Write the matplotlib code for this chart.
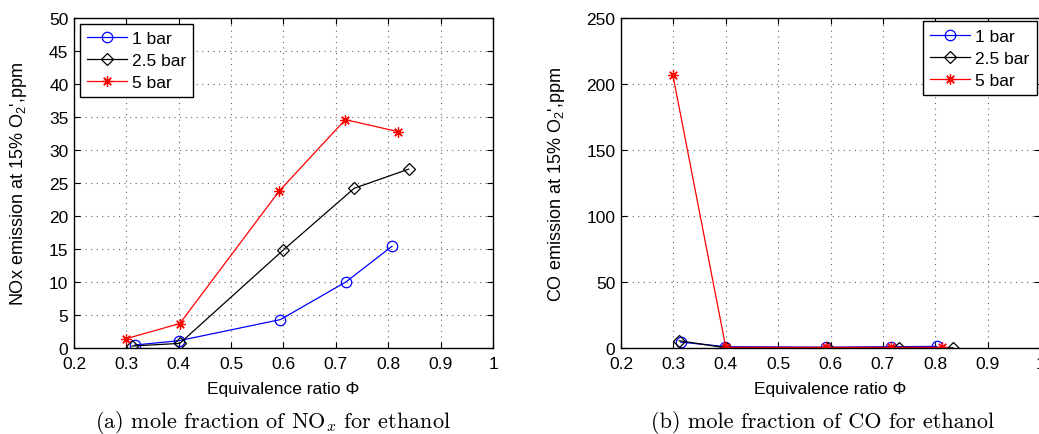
import matplotlib

matplotlib.use("Agg")
import matplotlib.pyplot as plt

plt.rcParams["font.family"] = ["Liberation Sans", "DejaVu Sans"]
plt.rcParams["mathtext.fontset"] = "cm"

# NOx emission (ppm at 15% O2)
NOX_1BAR_PHI = [0.316, 0.400, 0.594, 0.719, 0.807]
NOX_1BAR = [0.45, 1.1, 4.3, 10.0, 15.4]
NOX_25BAR_PHI = [0.311, 0.402, 0.599, 0.735, 0.839]
NOX_25BAR = [0.3, 0.7, 14.8, 24.2, 27.1]
NOX_5BAR_PHI = [0.299, 0.402, 0.592, 0.718, 0.818]
NOX_5BAR = [1.4, 3.7, 23.8, 34.6, 32.8]

# CO emission (ppm at 15% O2)
CO_1BAR_PHI = [0.314, 0.399, 0.592, 0.715, 0.803]
CO_1BAR = [4.5, 1.0, 0.6, 1.0, 1.2]
CO_25BAR_PHI = [0.311, 0.400, 0.595, 0.730, 0.834]
CO_25BAR = [5.5, 0.2, 0.2, 0.2, 0.1]
CO_5BAR_PHI = [0.299, 0.400, 0.592, 0.715, 0.813]
CO_5BAR = [206.8, 0.5, 0.5, 0.5, 0.5]

LABELS = ["1 bar", "2.5 bar", "5 bar"]
COLORS = ["#0000ff", "#000000", "#ff0000"]
MARKERS = ["o", "D", (8, 2, 0)]
MSIZES = [7.5, 6.5, 7.5]

FS = 12.5


def style_ax(ax, ymax, ystep):
    ax.set_xlim(0.2, 1.0)
    ax.set_ylim(0, ymax)
    ax.set_xticks([0.2, 0.3, 0.4, 0.5, 0.6, 0.7, 0.8, 0.9, 1.0])
    ax.set_xticklabels(["0.2", "0.3", "0.4", "0.5", "0.6", "0.7", "0.8", "0.9", "1"])
    ax.set_yticks(range(0, ymax + 1, ystep))
    ax.tick_params(direction="in", length=4, width=0.8, top=True, right=True,
                   labelsize=FS, pad=4)
    ax.tick_params(axis="x", pad=6)
    for sp in ax.spines.values():
        sp.set_linewidth(1.0)
    ax.grid(True, color="#666666", linestyle=(0, (1, 4)), linewidth=0.8)
    ax.set_axisbelow(True)
    ax.set_xlabel("Equivalence ratio \u03a6", fontsize=FS, labelpad=7)


def draw(ax, series):
    for (xs, ys), lab, c, m, ms in zip(series, LABELS, COLORS, MARKERS, MSIZES):
        ax.plot(xs, ys, color=c, lw=0.9, marker=m, markersize=ms,
                markerfacecolor="none", markeredgecolor=c, markeredgewidth=0.9,
                label=lab)


def add_legend(ax, loc, pad):
    leg = ax.legend(loc=loc, fontsize=FS, fancybox=False, edgecolor="black",
                    framealpha=1, handlelength=2.3, borderaxespad=pad, labelspacing=0.4,
                    handletextpad=0.3, borderpad=0.4)
    leg.get_frame().set_linewidth(1.0)


fig = plt.figure(figsize=(10.39, 4.35), dpi=100)

ax1 = fig.add_axes([0.0712, 0.1977, 0.4033, 0.7586])
draw(ax1, [(NOX_1BAR_PHI, NOX_1BAR), (NOX_25BAR_PHI, NOX_25BAR), (NOX_5BAR_PHI, NOX_5BAR)])
style_ax(ax1, 50, 5)
ax1.set_ylabel("NOx emission at 15% O$\\mathregular{_2}$',ppm", fontsize=13, labelpad=14)
add_legend(ax1, "upper left", 0.35)

ax2 = fig.add_axes([0.5977, 0.1977, 0.4033, 0.7586])
draw(ax2, [(CO_1BAR_PHI, CO_1BAR), (CO_25BAR_PHI, CO_25BAR), (CO_5BAR_PHI, CO_5BAR)])
style_ax(ax2, 250, 50)
ax2.set_ylabel("CO emission at 15% O$\\mathregular{_2}$',ppm", fontsize=13, labelpad=14)
add_legend(ax2, "upper right", 0.2)

fig.text(273 / 1039, 1 - 423 / 435, "(a) mole fraction of NO$_x$ for ethanol",
         family="cmr10", fontsize=16, ha="center", va="center")
fig.text(823 / 1039, 1 - 423 / 435, "(b) mole fraction of CO for ethanol",
         family="cmr10", fontsize=16, ha="center", va="center")

fig.savefig("out.png", dpi=100)
